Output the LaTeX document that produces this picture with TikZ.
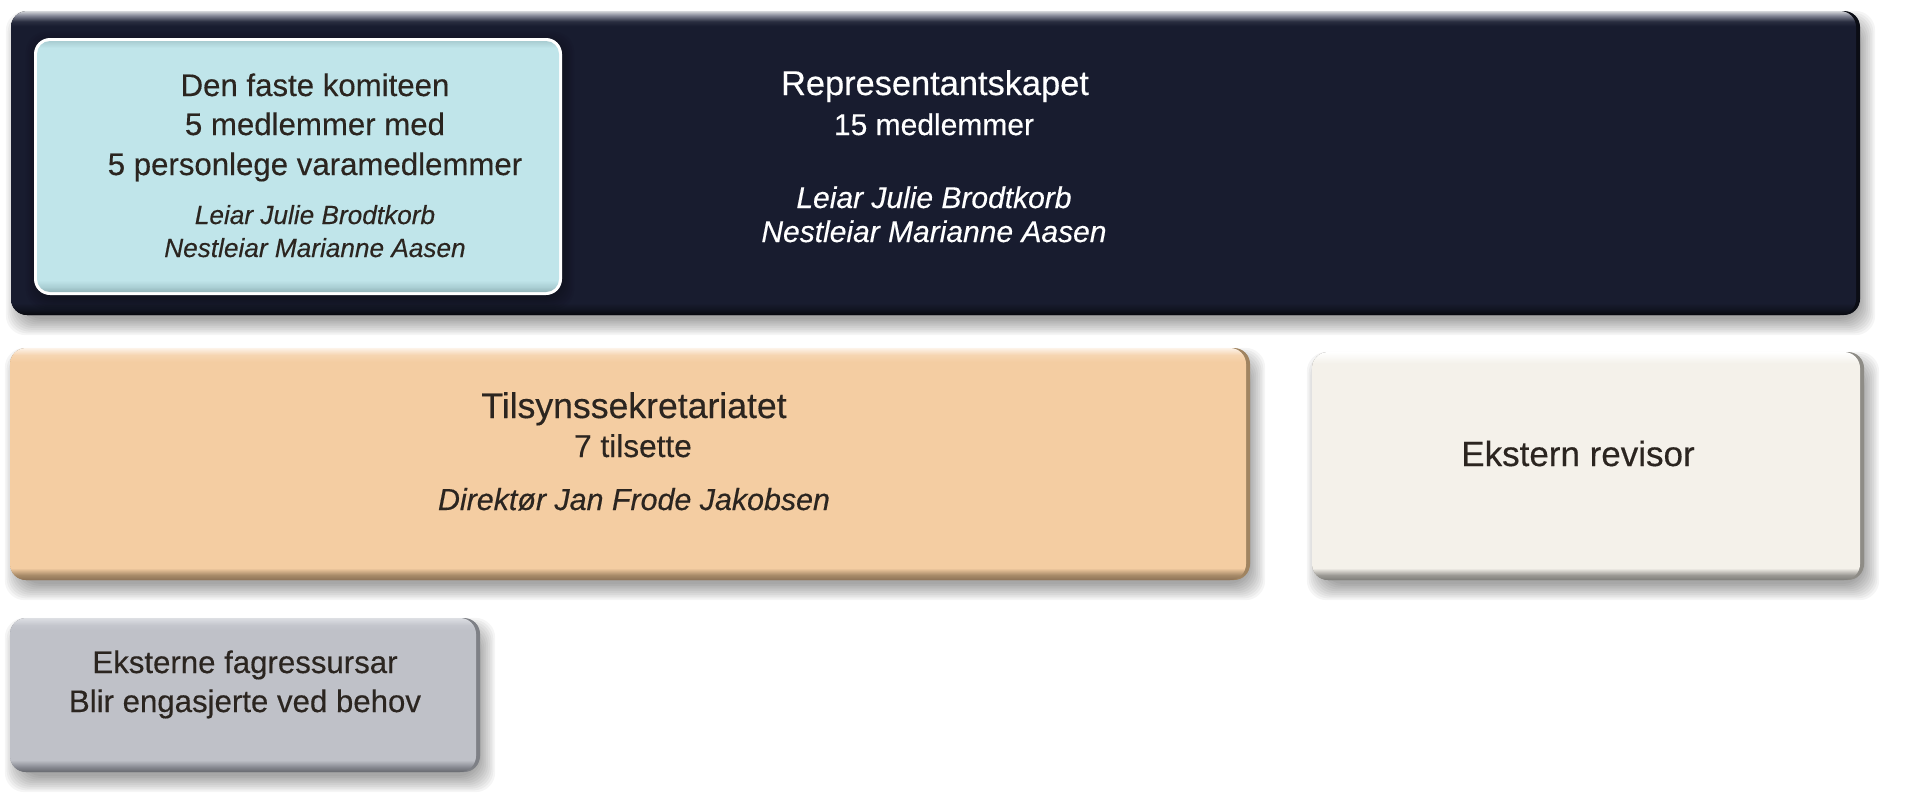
\documentclass[tikz,border=0pt]{standalone}
\usepackage{fontspec}
\setmainfont{Liberation Sans}[FakeBold=0.35]
\definecolor{ink}{HTML}{2B2520}
\definecolor{navy}{HTML}{181C2F}
\definecolor{dkA}{HTML}{07080D}
\definecolor{dkB}{HTML}{10131F}
\definecolor{dkT1}{HTML}{D5D7DB}
\definecolor{dkT2}{HTML}{7D8090}
\definecolor{dkT3}{HTML}{2A2E40}
\definecolor{dkRim}{HTML}{0B0D15}
\definecolor{bl}{HTML}{C0E5EA}
\definecolor{blA}{HTML}{92B3B8}
\definecolor{blB}{HTML}{AACFD4}
\definecolor{blT}{HTML}{A9CDD2}
\definecolor{or}{HTML}{F4CDA2}
\definecolor{orA}{HTML}{8C7256}
\definecolor{orB}{HTML}{A88B69}
\definecolor{orT1}{HTML}{FDF3E9}
\definecolor{orT2}{HTML}{F6D5B1}
\definecolor{orRim}{HTML}{A08461}
\definecolor{rv}{HTML}{F4F1EA}
\definecolor{rvA}{HTML}{7E7D79}
\definecolor{rvB}{HTML}{9C9A95}
\definecolor{rvT}{HTML}{FFFFFF}
\definecolor{rvRim}{HTML}{8E8C86}
\definecolor{gr}{HTML}{BFC1C8}
\definecolor{grA}{HTML}{66686E}
\definecolor{grB}{HTML}{868890}
\definecolor{grT1}{HTML}{DDDFE3}
\definecolor{grT2}{HTML}{C4C6CD}
\definecolor{grRim}{HTML}{7E8086}
\pgfdeclareverticalshading{shDark}{100bp}{color(0bp)=(dkA); color(25bp)=(dkA); color(25.8bp)=(dkB); color(27bp)=(navy); color(72.5bp)=(navy); color(73.3bp)=(dkT3); color(74.2bp)=(dkT2); color(75bp)=(dkT1); color(100bp)=(dkT1)}
\pgfdeclareverticalshading{shBlue}{100bp}{color(0bp)=(blA); color(25bp)=(blA); color(26bp)=(blB); color(27.4bp)=(bl); color(73.6bp)=(bl); color(75bp)=(blT); color(100bp)=(blT)}
\pgfdeclareverticalshading{shOr}{100bp}{color(0bp)=(orA); color(25bp)=(orA); color(26.1bp)=(orB); color(27.6bp)=(or); color(72bp)=(or); color(73.5bp)=(orT2); color(75bp)=(orT1); color(100bp)=(orT1)}
\pgfdeclareverticalshading{shRv}{100bp}{color(0bp)=(rvA); color(25bp)=(rvA); color(26.1bp)=(rvB); color(27.6bp)=(rv); color(72.5bp)=(rv); color(75bp)=(rvT); color(100bp)=(rvT)}
\pgfdeclareverticalshading{shGr}{100bp}{color(0bp)=(grA); color(25bp)=(grA); color(26.6bp)=(grB); color(28.9bp)=(gr); color(71bp)=(gr); color(72.7bp)=(grT2); color(75bp)=(grT1); color(100bp)=(grT1)}
\newcommand\fsz[1]{\fontsize{#1}{#1}\selectfont}
\newcommand\softshadow[6]{%
  \foreach \s in {-6,-4.2,...,11}{%
    \fill[black,opacity=0.04,rounded corners=10pt] (#1+#5-\s,#2+#6-\s) rectangle (#3+#5+\s,#4+#6+\s);}}
\tikzset{
  txt/.style={anchor=base,text=ink,inner sep=0pt},
  wtxt/.style={anchor=base,text=white,inner sep=0pt},
}
\begin{document}
\begin{tikzpicture}[x=0.5pt,y=-0.5pt]
\fill[white] (0,0) rectangle (1905,811);
\useasboundingbox (0,0) rectangle (1905,811);

% Representantskapet (dark)
\softshadow{11}{11}{1860}{315}{5}{10}
\fill[dkRim,rounded corners=8pt] (11,11) rectangle (1860,315);
\shade[shading=shDark,rounded corners=8pt] (11,11) rectangle (1856,315);

% Den faste komiteen (light blue)
\softshadow{34}{38}{562}{295}{2}{4}
\fill[white,rounded corners=8pt] (34,38) rectangle (562,295);
\shade[shading=shBlue,rounded corners=6.5pt] (37,41) rectangle (559,292);

% Tilsynssekretariatet (orange)
\softshadow{10}{348}{1250}{580}{5}{10}
\fill[orRim,rounded corners=8pt] (10,348) rectangle (1250,580);
\shade[shading=shOr,rounded corners=8pt] (10,348) rectangle (1246,580);

% Ekstern revisor
\softshadow{1312}{352}{1864}{580}{5}{10}
\fill[rvRim,rounded corners=8pt] (1312,352) rectangle (1864,580);
\shade[shading=shRv,rounded corners=8pt] (1312,352) rectangle (1860,580);

% Eksterne fagressursar (grey)
\softshadow{10}{618}{480}{772}{5}{10}
\fill[grRim,rounded corners=8pt] (10,618) rectangle (480,772);
\shade[shading=shGr,rounded corners=8pt] (10,618) rectangle (476,772);

% texts: Den faste komiteen
\node[txt,font=\fsz{15.6}] (dfk1) at (315,96) {Den faste komiteen};
\node[txt,font=\fsz{15.6}] (dfk2) at (315,135) {5 medlemmer med};
\node[txt,font=\fsz{15.6}] (dfk3) at (315,175) {5 personlege varamedlemmer};
\node[txt,font=\fsz{13.1}\itshape] (dfk4) at (315,224) {Leiar Julie Brodtkorb};
\node[txt,font=\fsz{13.1}\itshape] (dfk5) at (315,257) {Nestleiar Marianne Aasen};

% Representantskapet
\node[wtxt,font=\fsz{17.2}] (rep1) at (935,95) {Representantskapet};
\node[wtxt,font=\fsz{15}] (rep2) at (934,135) {15 medlemmer};
\node[wtxt,font=\fsz{15}\itshape] (rep3) at (934,208) {Leiar Julie Brodtkorb};
\node[wtxt,font=\fsz{15}\itshape] (rep4) at (934,242) {Nestleiar Marianne Aasen};

% Tilsynssekretariatet
\node[txt,font=\fsz{17.8}] (ts1) at (634,418) {Tilsynssekretariatet};
\node[txt,font=\fsz{15.8}] (ts2) at (633,457) {7 tilsette};
\node[txt,font=\fsz{15.2}\itshape] (ts3) at (634,510) {Direktør Jan Frode Jakobsen};

% Ekstern revisor
\node[txt,font=\fsz{17.5}] (rev) at (1578,466) {Ekstern revisor};

% Eksterne fagressursar
\node[txt,font=\fsz{15.6}] (ef1) at (245,673) {Eksterne fagressursar};
\node[txt,font=\fsz{15.6}] (ef2) at (245,712) {Blir engasjerte ved behov};
\end{tikzpicture}
\end{document}
